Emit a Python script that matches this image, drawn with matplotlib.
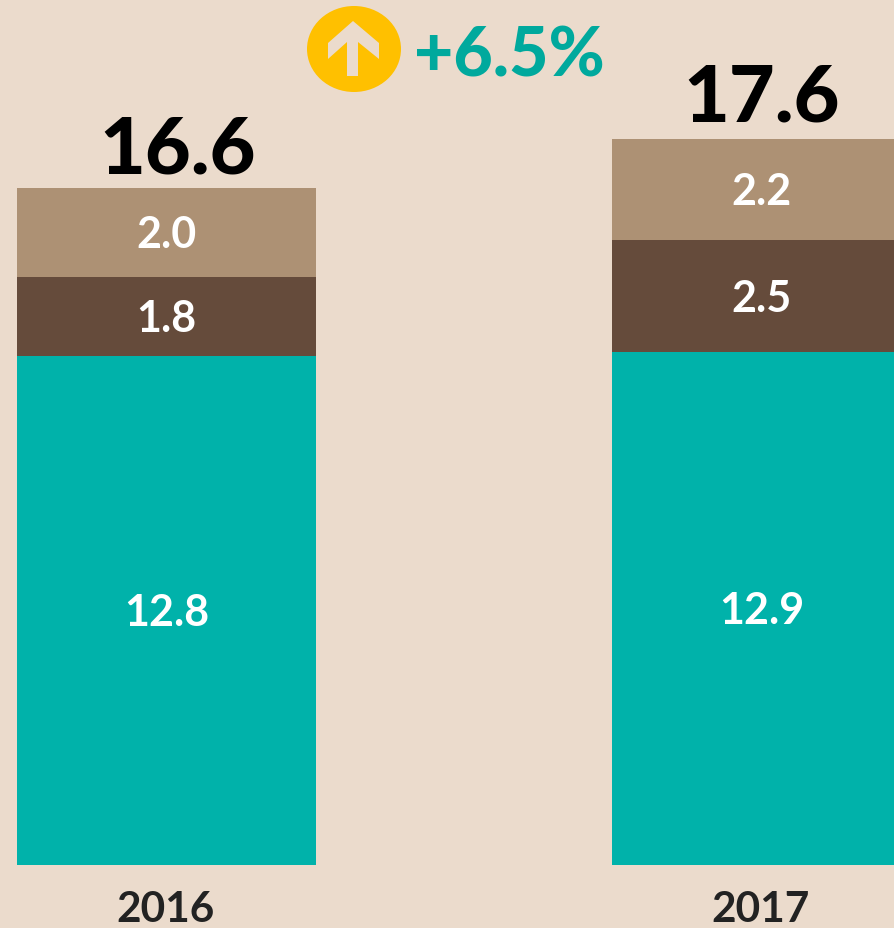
import matplotlib
matplotlib.use("Agg")
import matplotlib.pyplot as plt
from matplotlib.patches import Ellipse, Polygon

# Data
years = ["2016", "2017"]
bottom_vals = [12.8, 12.9]
middle_vals = [1.8, 2.5]
top_vals = [2.0, 2.2]
totals = ["16.6", "17.6"]
change = "+6.5%"

# Colours
bg = "#ebdbcc"
teal = "#00b2aa"
dark = "#654b3b"
tan = "#ad9174"
badge = "#ffc000"
green = "#00a99d"

plt.rcParams["font.family"] = ["Lato", "DejaVu Sans"]

W, H = 894, 929
fig = plt.figure(figsize=(W / 100, H / 100), dpi=100, facecolor=bg)
ax = fig.add_axes([0, 0, 1, 1])
ax.set_xlim(0, W)
ax.set_ylim(H, 0)
ax.axis("off")

# the original is not drawn to one scale, so px per unit differs by segment
base = 866
scale_bottom = [39.77, 39.77]
scale_middle = [44.0, 44.8]
scale_top = [44.5, 45.9]
lefts = [17, 612]
width = 299
total_x = [178, 762]

for i in range(2):
    x = lefts[i]
    cx = x + width / 2
    y0 = base
    segs = [(bottom_vals[i], teal, scale_bottom[i]),
            (middle_vals[i], dark, scale_middle[i]),
            (top_vals[i], tan, scale_top[i])]
    for val, col, scale in segs:
        h = val * scale
        ax.bar(x, -h, width=width, bottom=y0, align="edge", color=col, linewidth=0)
        ax.text(cx, y0 - h / 2 + 15, f"{val:.1f}", color="white", fontsize=31, fontweight="bold",
                ha="center", va="baseline")
        y0 -= h
    ax.text(total_x[i], y0 - (15 if i == 0 else 18), totals[i], color="black", fontsize=57,
            fontweight="black", ha="center", va="baseline")
    ax.text(cx - 1, 922, years[i], color="#222222", fontsize=30.5, fontweight="bold",
            ha="center", va="baseline")

# change badge
ax.add_patch(Ellipse((354, 50), 94, 86, color=badge, lw=0))
ax.add_patch(Polygon([(353, 22), (379, 44), (379, 60), (358, 43), (358, 77), (347, 77),
                      (347, 43), (328, 60), (328, 44)], closed=True, color=bg, lw=0))
ax.text(414, 76, change, color=green, fontsize=49, fontweight="black", ha="left", va="baseline")

fig.savefig("out.png", dpi=100, facecolor=bg)
